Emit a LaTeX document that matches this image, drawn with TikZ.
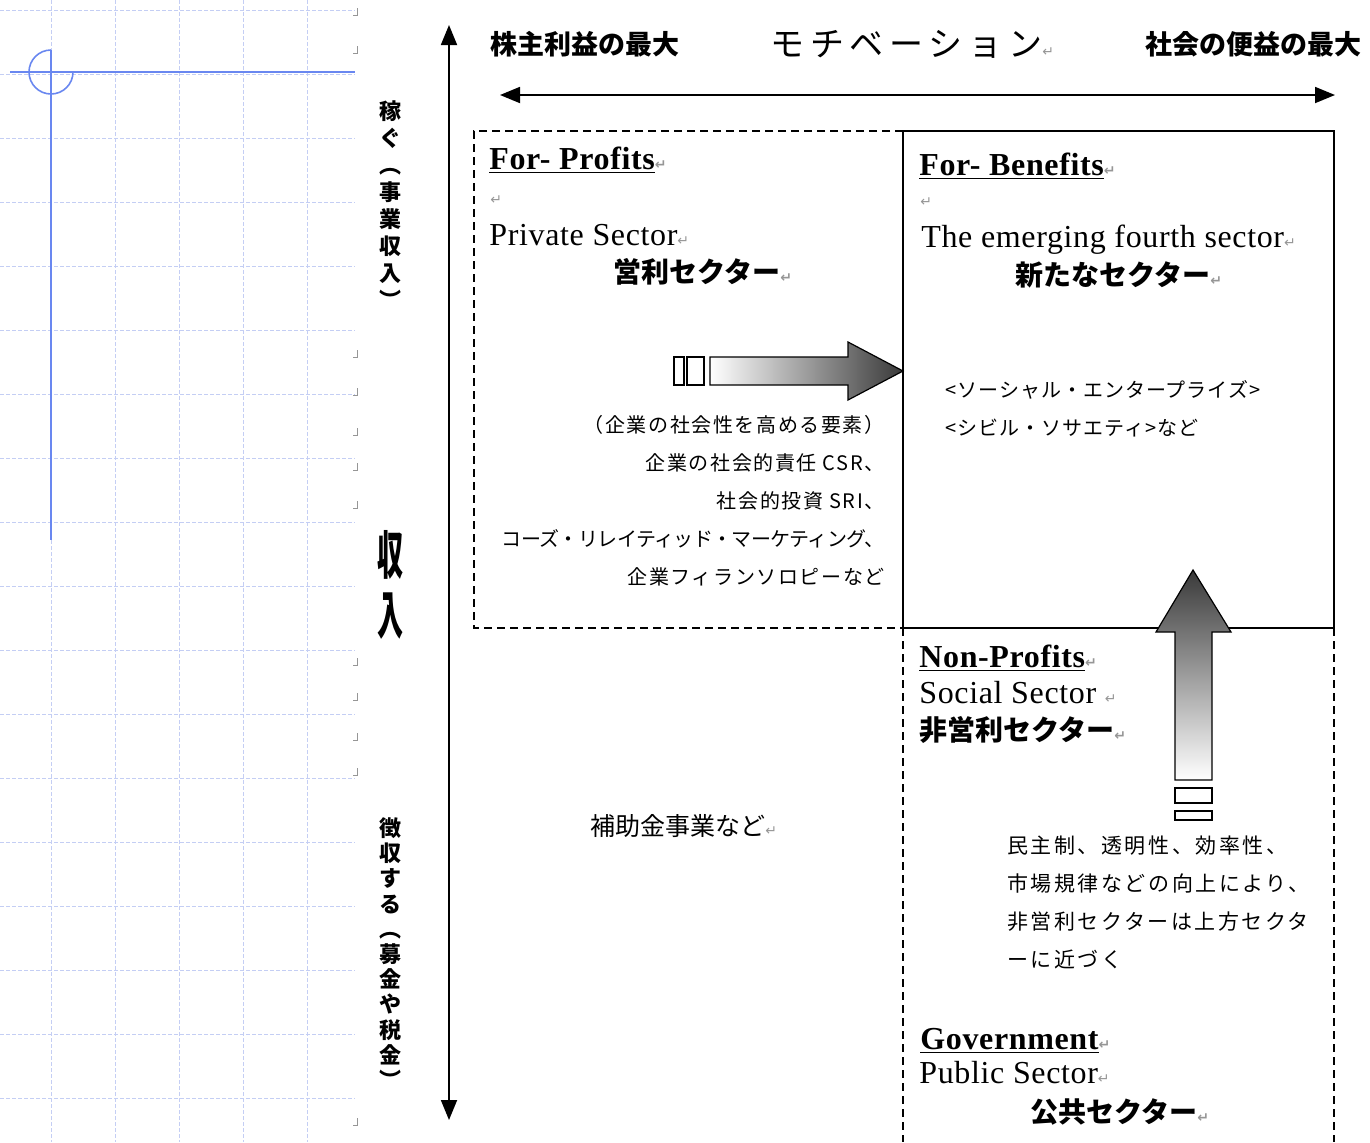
\documentclass[tikz,border=0pt]{standalone}
\usepackage{fontspec}
\setmainfont{Liberation Serif}
\newfontfamily\jp{Noto Sans CJK JP}
\newfontfamily\arrowfont{DejaVu Sans}
\usetikzlibrary{arrows.meta}
\definecolor{gridblue}{RGB}{196,206,244}
\definecolor{crossblue}{RGB}{105,135,240}
\definecolor{markgray}{RGB}{150,150,150}
\newcommand{\ret}{{\arrowfont\color{markgray}\fontsize{7}{7}\selectfont ↵}}
\tikzset{
  gridline/.style={gridblue, line width=0.45pt, dash pattern=on 2pt off 1pt},
  axisline/.style={line width=0.9pt, {Triangle[length=10pt,width=8pt]}-{Triangle[length=10pt,width=8pt]}},
  dashbox/.style={line width=0.8pt, dash pattern=on 4pt off 2.5pt},
  solidbox/.style={line width=0.8pt},
  title/.style={anchor=base west, inner sep=0pt, font=\bfseries\fontsize{16}{18}\selectfont\addfontfeature{LetterSpace=2}},
  sector/.style={anchor=base west, inner sep=0pt, font=\fontsize{16}{18}\selectfont\addfontfeature{LetterSpace=2}},
  jbold/.style={anchor=west, inner sep=0pt, font=\jp\bfseries\fontsize{14}{16}\selectfont},
  jtop/.style={anchor=west, inner sep=0pt, font=\jp\bfseries\fontsize{13.5}{15}\selectfont},
  vlab/.style={inner sep=0pt, align=center, font=\jp\bfseries\fontsize{11}{13.5}\selectfont},
  note/.style={inner sep=0pt, font=\jp\fontsize{10}{19}\selectfont\addfontfeature{LetterSpace=8}},
  retmark/.style={anchor=west, inner sep=0pt, font=\arrowfont\fontsize{7}{7}\selectfont, text=markgray},
}
\begin{document}
\begin{tikzpicture}[x=0.5pt,y=-0.5pt]
\useasboundingbox (0,0) rectangle (1370,1142);

% grid of the editor
\foreach \y in {10,74,...,1140}{
  \draw[gridline] (0,\y) -- (355,\y);
}
\foreach \x in {51,115,...,307}{
  \draw[gridline] (\x,0) -- (\x,1142);
}
\draw[crossblue, line width=0.8pt] (10,72) -- (355,72);
\draw[crossblue, line width=0.8pt] (51,50) -- (51,540);
\draw[crossblue, line width=0.8pt] (51,50) arc[start angle=270, end angle=0, radius=22];
\foreach \y in {15,53,357,395,435,470,508,665,700,740,775,1125}{
  \draw[markgray, line width=0.5pt] (357,\y-7) -- (357,\y) -- (353,\y);
}

% axes
\coordinate (vtop) at (449,25);
\coordinate (vbot) at (449,1120);
\coordinate (hleft) at (500,95);
\coordinate (hright) at (1335,95);
\draw[axisline] (vbot) -- (vtop);
\draw[axisline] (hleft) -- (hright);

\node[jtop] (kabunushi) at (490,44) {株主利益の最大};
\node[jtop, font=\jp\fontsize{17}{19}\selectfont\addfontfeature{LetterSpace=17}] (motiv) at (770,44) {モチベーション\ret};
\node[jtop] (shakai) at (1145,44) {社会の便益の最大};

\node[vlab] (kasegu) at (390,205) {稼\\ぐ\\︵\\事\\業\\収\\入\\︶};
\node[vlab, font=\jp\bfseries\fontsize{13}{30}\selectfont] (shunyu) at (390,585) {\scalebox{1}[2]{収}\\\scalebox{1}[2]{入}};
\node[vlab, font=\jp\bfseries\fontsize{11}{12.6}\selectfont] (choshu) at (390,953) {徴\\収\\す\\る\\︵\\募\\金\\や\\税\\金\\︶};

% sectors
\draw[dashbox] (903,131) -- (474,131) -- (474,628) -- (903,628);
\draw[solidbox] (903,131) rectangle (1334,628);
\draw[dashbox] (903,628) -- (903,1142);
\draw[dashbox] (1334,628) -- (1334,1142);

\node[title] (forprofit) at (489,169) {\underline{For- Profits}\ret};
\node[retmark] (fpret) at (490,200) {↵};
\node[sector] (private) at (489,245) {Private Sector\ret};
\node[jbold] (eiri) at (613,272) {営利セクター\ret};

\node[title] (forbenefit) at (919,175) {\underline{For- Benefits}\ret};
\node[retmark] (fbret) at (920,202) {↵};
\node[sector] (fourth) at (921,247) {The emerging fourth sector\ret};
\node[jbold] (arata) at (1015,275) {新たなセクター\ret};

\node[title] (nonprofit) at (919,667) {\underline{Non-Profits}\ret};
\node[sector] (social) at (919,703) {Social Sector \ret};
\node[jbold] (hieiri) at (919,730) {非営利セクター\ret};

\node[title] (gov) at (920,1049) {\underline{Government}\ret};
\node[sector] (public) at (919,1083) {Public Sector\ret};
\node[jbold] (kokyo) at (1030,1112) {公共セクター\ret};

\node[note, anchor=east, align=right] (csr) at (885,501) {（企業の社会性を高める要素）\\企業の社会的責任 CSR、\\社会的投資 SRI、\\{\addfontfeature{LetterSpace=-3}コーズ・リレイティッド・マーケティング、}\\企業フィランソロピーなど};
\node[note, anchor=west, align=left, font=\jp\fontsize{10}{19}\selectfont\addfontfeature{LetterSpace=5}] (enterprise) at (945,409) {<ソーシャル・エンタープライズ>\\<シビル・ソサエティ>など};
\node[note, anchor=west, align=left, font=\jp\fontsize{10.5}{19}\selectfont\addfontfeature{LetterSpace=12}] (kaizen) at (1007,902) {民主制、透明性、効率性、\\市場規律などの向上により、\\非営利セクターは上方セクタ\\ーに近づく};
\node[anchor=west, inner sep=0pt, font=\jp\fontsize{12.5}{14}\selectfont] (hojo) at (590,826) {補助金事業など\ret};

% block arrows
\draw[fill=white, line width=0.6pt] (674,357) rectangle (684,385);
\draw[fill=white, line width=0.6pt] (687,357) rectangle (704,385);
\shadedraw[left color=white, right color=gray!45!black, line width=0.6pt]
  (710,357) -- (848,357) -- (848,342) -- (903,371) -- (848,400) -- (848,385) -- (710,385) -- cycle;

\shadedraw[top color=gray!45!black, bottom color=white, line width=0.6pt]
  (1175,780) -- (1175,632) -- (1156,632) -- (1193,570) -- (1231,632) -- (1212,632) -- (1212,780) -- cycle;
\draw[fill=white, line width=0.6pt] (1175,788) rectangle (1212,803);
\draw[fill=white, line width=0.6pt] (1175,811) rectangle (1212,820);

\end{tikzpicture}
\end{document}
